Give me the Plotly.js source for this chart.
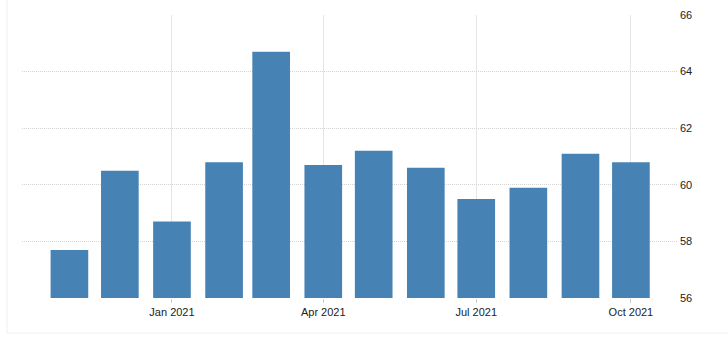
<!DOCTYPE html>
<html>
<head>
<meta charset="utf-8">
<script src="https://cdn.plot.ly/plotly-3.0.1.min.js"></script>
<style>html,body{margin:0;padding:0;background:#fff;}#chart{width:728px;height:350px;}</style>
</head>
<body>
<div id="chart"></div>
<script>
const months = ['2020-11-01','2020-12-01','2021-01-01','2021-02-01','2021-03-01','2021-04-01','2021-05-01','2021-06-01','2021-07-01','2021-08-01','2021-09-01','2021-10-01'];
const values = [57.7, 60.5, 58.7, 60.8, 64.7, 60.7, 61.2, 60.6, 59.5, 59.9, 61.1, 60.8];
const xTickVals = ['2021-01-01','2021-04-01','2021-07-01','2021-10-01'];
const xTickText = ['Jan 2021','Apr 2021','Jul 2021','Oct 2021'];
const yTickVals = [56, 58, 60, 62, 64, 66];

const trace = {
  type: 'bar',
  x: months,
  y: values,
  marker: {color: '#4682b4', line: {width: 0}},
  hoverinfo: 'x+y'
};

const layout = {
  width: 728, height: 350,
  margin: {l: 22, r: 51, t: 15, b: 52},
  paper_bgcolor: '#ffffff', plot_bgcolor: '#ffffff',
  showlegend: false,
  bargap: 0.2,
  font: {family: 'Liberation Sans, Arial, sans-serif', size: 11, color: '#222222'},
  xaxis: {
    type: 'date',
    range: ['2020-10-03 19:00', '2021-10-28 10:00'],
    tickmode: 'array', tickvals: xTickVals, ticktext: xTickText,
    showgrid: true, gridcolor: '#e6e6e6', gridwidth: 1, griddash: 'solid',
    ticks: 'outside', ticklen: 4, tickcolor: '#cccccc',
    showline: false, zeroline: false,
    tickfont: {size: 11, color: '#222222'}
  },
  yaxis: {
    side: 'right',
    range: [56, 66],
    tickmode: 'array', tickvals: yTickVals,
    showgrid: true, gridcolor: '#d4d4d4', gridwidth: 1, griddash: '1px,1px',
    ticks: '', showline: false, zeroline: false,
    ticklabelstandoff: 2,
    tickfont: {size: 11, color: '#222222'}
  },
  shapes: [
    {type: 'line', xref: 'paper', yref: 'paper', x0: -0.0229, x1: 1.2, y0: -0.1237, y1: -0.1237, line: {color: '#f0f0f0', width: 1}},
    {type: 'line', xref: 'paper', yref: 'paper', x0: -0.0229, x1: -0.0229, y0: -0.1237, y1: 1.2, line: {color: '#f0f0f0', width: 1}}
  ]
};

Plotly.newPlot('chart', [trace], layout, {displayModeBar: false, staticPlot: true});
</script>
</body>
</html>
